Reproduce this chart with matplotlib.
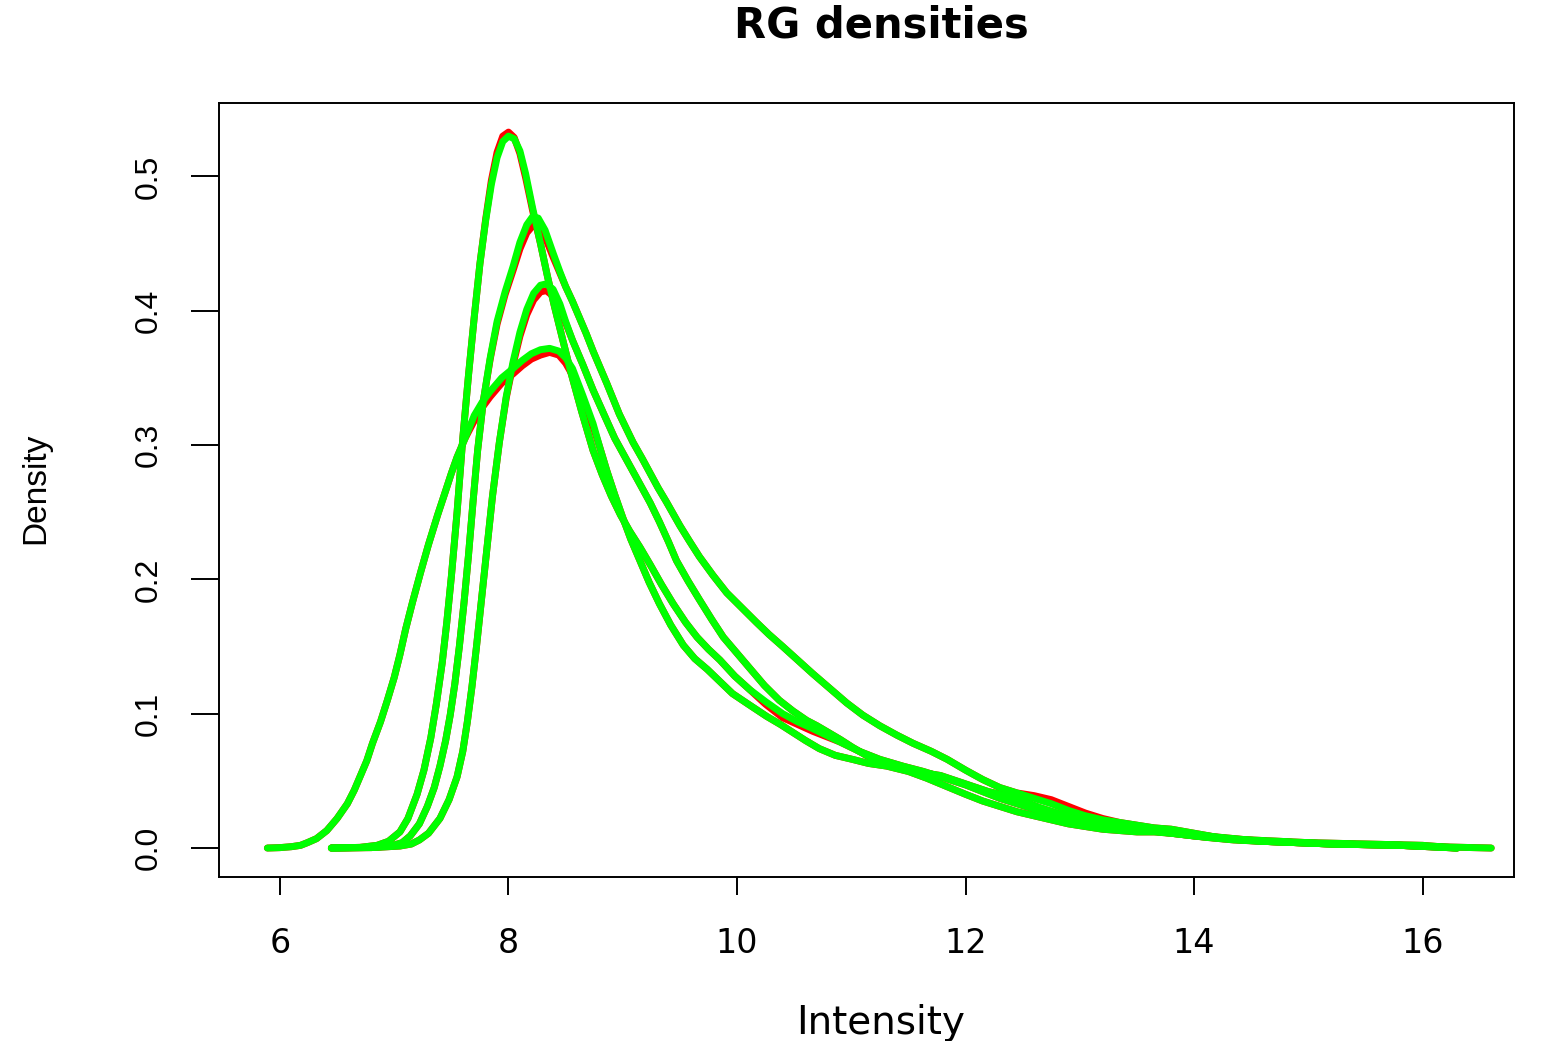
import matplotlib
matplotlib.use("Agg")
import matplotlib.pyplot as plt

plt.rcParams['font.family'] = ['Liberation Sans', 'DejaVu Sans']

# density curves: 4 arrays, each drawn in red and in green
# curve A: tallest, peak near 8.0
a_x = [6.45, 6.70, 6.85, 6.95, 7.05, 7.12, 7.20, 7.26, 7.32, 7.37,
       7.42, 7.46, 7.50, 7.55, 7.60, 7.65, 7.70, 7.75, 7.80, 7.85,
       7.90, 7.95, 8.00, 8.05, 8.10, 8.15, 8.21, 8.28, 8.34, 8.40,
       8.47, 8.54, 8.64, 8.74, 8.82, 8.90, 8.98, 9.06, 9.15, 9.24,
       9.34, 9.44, 9.55, 9.65, 9.75, 9.85, 9.98, 10.11, 10.25, 10.40,
       10.53, 10.66, 10.78, 10.90, 11.07, 11.25, 11.45, 11.63, 11.82, 12.0,
       12.15, 12.3, 12.45, 12.6, 12.75, 12.9, 13.05, 13.2, 13.4, 13.6,
       13.8, 14.0, 14.25, 14.5, 15.0, 15.5, 16.0, 16.3]
a_red = [0.0, 0.0005, 0.002, 0.005, 0.012, 0.022, 0.040, 0.058, 0.082, 0.108,
         0.138, 0.168, 0.202, 0.250, 0.305, 0.352, 0.395, 0.435, 0.468, 0.497,
         0.518, 0.530, 0.533, 0.529, 0.517, 0.499, 0.475, 0.450, 0.426, 0.404,
         0.380, 0.356, 0.325, 0.296, 0.278, 0.262, 0.248, 0.236, 0.224, 0.211,
         0.196, 0.182, 0.168, 0.157, 0.148, 0.140, 0.128, 0.118, 0.107, 0.097,
         0.092, 0.087, 0.083, 0.079, 0.072, 0.066, 0.061, 0.057, 0.052, 0.047,
         0.042, 0.037, 0.033, 0.029, 0.025, 0.021, 0.018, 0.016, 0.014, 0.013,
         0.011, 0.009, 0.007, 0.006, 0.004, 0.003, 0.002, 0.0]
a_green = [0.0, 0.0005, 0.002, 0.005, 0.012, 0.022, 0.040, 0.058, 0.082, 0.108,
           0.138, 0.168, 0.202, 0.250, 0.305, 0.352, 0.395, 0.435, 0.467, 0.494,
           0.514, 0.526, 0.530, 0.528, 0.519, 0.502, 0.477, 0.450, 0.426, 0.404,
           0.380, 0.356, 0.325, 0.296, 0.278, 0.262, 0.248, 0.236, 0.224, 0.211,
           0.196, 0.182, 0.168, 0.157, 0.148, 0.140, 0.128, 0.118, 0.109, 0.100,
           0.094, 0.089, 0.084, 0.079, 0.072, 0.066, 0.061, 0.057, 0.052, 0.047,
           0.042, 0.037, 0.033, 0.029, 0.025, 0.021, 0.018, 0.016, 0.014, 0.013,
           0.011, 0.009, 0.007, 0.006, 0.004, 0.003, 0.002, 0.0]

# curve B: peak near 8.2
b_x = [6.45, 6.80, 6.99, 7.07, 7.14, 7.22, 7.29, 7.35, 7.40, 7.45,
       7.49, 7.53, 7.57, 7.61, 7.65, 7.69, 7.73, 7.78, 7.84, 7.90,
       7.97, 8.04, 8.10, 8.16, 8.21, 8.26, 8.32, 8.39, 8.45, 8.50,
       8.56, 8.62, 8.68, 8.74, 8.80, 8.86, 8.97, 9.09, 9.17, 9.24,
       9.31, 9.38, 9.44, 9.50, 9.58, 9.67, 9.79, 9.91, 10.04, 10.17,
       10.28, 10.40, 10.53, 10.66, 10.81, 10.96, 11.1, 11.25, 11.4, 11.54,
       11.7, 11.84, 12.0, 12.15, 12.3, 12.45, 12.6, 12.75, 12.9, 13.05,
       13.2, 13.35, 13.5, 13.65, 13.8, 14.0, 14.2, 14.4, 14.6, 14.9,
       15.2, 15.8, 16.1, 16.6]
b_red = [0.0, 0.0003, 0.002, 0.004, 0.009, 0.018, 0.031, 0.045, 0.061, 0.080,
         0.099, 0.122, 0.150, 0.182, 0.218, 0.258, 0.296, 0.333, 0.364, 0.390,
         0.412, 0.430, 0.446, 0.458, 0.463, 0.462, 0.455, 0.440, 0.428, 0.418,
         0.407, 0.395, 0.383, 0.370, 0.358, 0.346, 0.323, 0.302, 0.290, 0.279,
         0.268, 0.258, 0.249, 0.240, 0.229, 0.217, 0.203, 0.190, 0.179, 0.168,
         0.159, 0.150, 0.140, 0.130, 0.119, 0.108, 0.099, 0.091, 0.084, 0.078,
         0.072, 0.066, 0.058, 0.051, 0.045, 0.041, 0.039, 0.036, 0.031, 0.026,
         0.022, 0.019, 0.017, 0.015, 0.014, 0.011, 0.008, 0.006, 0.005, 0.004,
         0.003, 0.002, 0.001, 0.0]
b_green = [0.0, 0.0003, 0.002, 0.004, 0.009, 0.018, 0.031, 0.045, 0.061, 0.080,
           0.099, 0.122, 0.150, 0.182, 0.218, 0.258, 0.296, 0.333, 0.365, 0.392,
           0.414, 0.433, 0.451, 0.464, 0.470, 0.469, 0.460, 0.443, 0.429, 0.418,
           0.407, 0.395, 0.383, 0.370, 0.358, 0.346, 0.323, 0.302, 0.290, 0.279,
           0.268, 0.258, 0.249, 0.240, 0.229, 0.217, 0.203, 0.190, 0.179, 0.168,
           0.159, 0.150, 0.140, 0.130, 0.119, 0.108, 0.099, 0.091, 0.084, 0.078,
           0.072, 0.066, 0.058, 0.051, 0.045, 0.041, 0.037, 0.033, 0.028, 0.024,
           0.021, 0.019, 0.017, 0.015, 0.014, 0.011, 0.008, 0.006, 0.005, 0.004,
           0.003, 0.002, 0.001, 0.0]

# curve C: peak near 8.33
c_x = [6.45, 6.85, 7.05, 7.15, 7.22, 7.30, 7.40, 7.48, 7.55, 7.60,
       7.64, 7.68, 7.72, 7.76, 7.81, 7.86, 7.92, 7.98, 8.04, 8.10,
       8.16, 8.22, 8.28, 8.33, 8.39, 8.45, 8.50, 8.56, 8.65, 8.74,
       8.84, 8.93, 9.04, 9.15, 9.24, 9.32, 9.40, 9.47, 9.57, 9.67,
       9.78, 9.88, 10.0, 10.11, 10.24, 10.37, 10.49, 10.61, 10.70, 10.78,
       10.9, 11.01, 11.13, 11.25, 11.45, 11.63, 11.78, 11.92, 12.06, 12.2,
       12.35, 12.5, 12.65, 12.8, 12.95, 13.1, 13.3, 13.5, 13.65, 13.8,
       14.1, 14.35, 14.6, 15.2, 15.8, 16.3]
c_red = [0.0, 0.0005, 0.0015, 0.003, 0.006, 0.011, 0.022, 0.036, 0.053, 0.072,
         0.094, 0.120, 0.150, 0.182, 0.222, 0.262, 0.302, 0.335, 0.360, 0.381,
         0.397, 0.408, 0.414, 0.415, 0.411, 0.402, 0.391, 0.378, 0.360, 0.341,
         0.322, 0.305, 0.288, 0.271, 0.257, 0.243, 0.228, 0.214, 0.199, 0.185,
         0.170, 0.157, 0.145, 0.134, 0.121, 0.110, 0.102, 0.095, 0.091, 0.087,
         0.081, 0.075, 0.069, 0.064, 0.059, 0.056, 0.054, 0.050, 0.046, 0.042,
         0.039, 0.035, 0.030, 0.026, 0.022, 0.019, 0.017, 0.015, 0.014, 0.013,
         0.009, 0.007, 0.005, 0.003, 0.002, 0.0]
c_green = [0.0, 0.0005, 0.0015, 0.003, 0.006, 0.011, 0.022, 0.036, 0.053, 0.072,
           0.094, 0.120, 0.150, 0.182, 0.222, 0.262, 0.302, 0.336, 0.362, 0.384,
           0.401, 0.413, 0.419, 0.420, 0.416, 0.405, 0.392, 0.378, 0.360, 0.341,
           0.322, 0.305, 0.288, 0.271, 0.257, 0.243, 0.228, 0.214, 0.199, 0.185,
           0.170, 0.157, 0.145, 0.134, 0.121, 0.110, 0.102, 0.095, 0.091, 0.087,
           0.081, 0.075, 0.069, 0.064, 0.059, 0.056, 0.054, 0.050, 0.046, 0.042,
           0.039, 0.035, 0.030, 0.026, 0.022, 0.019, 0.017, 0.015, 0.014, 0.013,
           0.009, 0.007, 0.005, 0.003, 0.002, 0.0]

# curve D: the broad one, starts near 5.9
d_x = [5.89, 6.00, 6.10, 6.18, 6.24, 6.32, 6.41, 6.50, 6.59, 6.65,
       6.70, 6.76, 6.81, 6.88, 6.94, 7.00, 7.05, 7.10, 7.16, 7.23,
       7.30, 7.38, 7.45, 7.50, 7.55, 7.62, 7.70, 7.77, 7.84, 7.94,
       8.04, 8.12, 8.20, 8.28, 8.36, 8.44, 8.50, 8.56, 8.65, 8.74,
       8.80, 8.86, 8.93, 9.00, 9.07, 9.15, 9.23, 9.32, 9.42, 9.53,
       9.63, 9.74, 9.85, 9.96, 10.1, 10.26, 10.38, 10.49, 10.6, 10.72,
       10.86, 11.01, 11.15, 11.31, 11.5, 11.66, 11.83, 12.0, 12.15, 12.3,
       12.45, 12.6, 12.75, 12.9, 13.05, 13.2, 13.35, 13.5, 13.65, 13.8,
       14.1, 14.35, 14.6, 15.2, 15.8, 16.3]
d_red = [0.0, 0.0003, 0.001, 0.002, 0.004, 0.007, 0.013, 0.022, 0.033, 0.043,
         0.053, 0.065, 0.078, 0.094, 0.110, 0.127, 0.144, 0.163, 0.183, 0.205,
         0.226, 0.248, 0.266, 0.279, 0.291, 0.305, 0.318, 0.328, 0.336, 0.346,
         0.353, 0.359, 0.364, 0.367, 0.369, 0.367, 0.361, 0.352, 0.334, 0.314,
         0.298, 0.281, 0.263, 0.246, 0.230, 0.214, 0.198, 0.182, 0.166, 0.151,
         0.141, 0.133, 0.124, 0.115, 0.107, 0.098, 0.092, 0.086, 0.080, 0.074,
         0.069, 0.066, 0.063, 0.061, 0.057, 0.052, 0.046, 0.040, 0.035, 0.031,
         0.027, 0.024, 0.021, 0.018, 0.016, 0.014, 0.013, 0.012, 0.012, 0.011,
         0.008, 0.006, 0.005, 0.003, 0.002, 0.0]
d_green = [0.0, 0.0003, 0.001, 0.002, 0.004, 0.007, 0.013, 0.022, 0.033, 0.043,
           0.053, 0.065, 0.078, 0.094, 0.110, 0.127, 0.144, 0.163, 0.183, 0.205,
           0.226, 0.248, 0.266, 0.279, 0.291, 0.305, 0.322, 0.332, 0.340, 0.350,
           0.357, 0.363, 0.368, 0.371, 0.372, 0.370, 0.365, 0.357, 0.337, 0.316,
           0.298, 0.281, 0.263, 0.246, 0.230, 0.214, 0.198, 0.182, 0.166, 0.151,
           0.141, 0.133, 0.124, 0.115, 0.107, 0.098, 0.092, 0.086, 0.080, 0.074,
           0.069, 0.066, 0.063, 0.061, 0.057, 0.052, 0.046, 0.040, 0.035, 0.031,
           0.027, 0.024, 0.021, 0.018, 0.016, 0.014, 0.013, 0.012, 0.012, 0.011,
           0.008, 0.006, 0.005, 0.003, 0.002, 0.0]

x_ticks = [6, 8, 10, 12, 14, 16]
y_ticks = [0.0, 0.1, 0.2, 0.3, 0.4, 0.5]
y_tick_labels = ["0.0", "0.1", "0.2", "0.3", "0.4", "0.5"]

curves = [(a_x, a_red, a_green), (b_x, b_red, b_green),
          (c_x, c_red, c_green), (d_x, d_red, d_green)]

fig = plt.figure(figsize=(15.44, 10.41), dpi=100)
ax = fig.add_axes([0.1418, 0.1575, 0.8388, 0.7436])

# all red first, green drawn over it
for xs, yr, yg in curves:
    ax.plot(xs, yr, color='#ff0000', lw=5, solid_capstyle='round', solid_joinstyle='round')
for xs, yr, yg in curves:
    ax.plot(xs, yg, color='#00ff00', lw=5, solid_capstyle='round', solid_joinstyle='round')

ax.set_xlim(5.466, 16.80)
ax.set_ylim(-0.0216, 0.5547)

ax.set_xticks(x_ticks)
ax.set_xticklabels([str(t) for t in x_ticks], family='DejaVu Sans', fontsize=24)
ax.set_yticks(y_ticks)
ax.set_yticklabels(y_tick_labels, fontsize=23, rotation=90, va='center')
ax.tick_params(axis='x', length=13, width=1.4, pad=23)
ax.tick_params(axis='y', length=20, width=1.4, pad=20)
for sp in ax.spines.values():
    sp.set_linewidth(1.4)

fig.text(881 / 1544, 1 - 25 / 1041, "RG densities", family='DejaVu Sans', fontweight='bold',
         fontsize=30, ha='center', va='center')
fig.text(881 / 1544, 1 - 1034 / 1041, "Intensity", family='DejaVu Sans', fontsize=28,
         ha='center', va='baseline')
fig.text(36 / 1544, 1 - 488 / 1041, "Density", fontsize=24, rotation=90, ha='center', va='center')

fig.savefig('out.png', dpi=100)
